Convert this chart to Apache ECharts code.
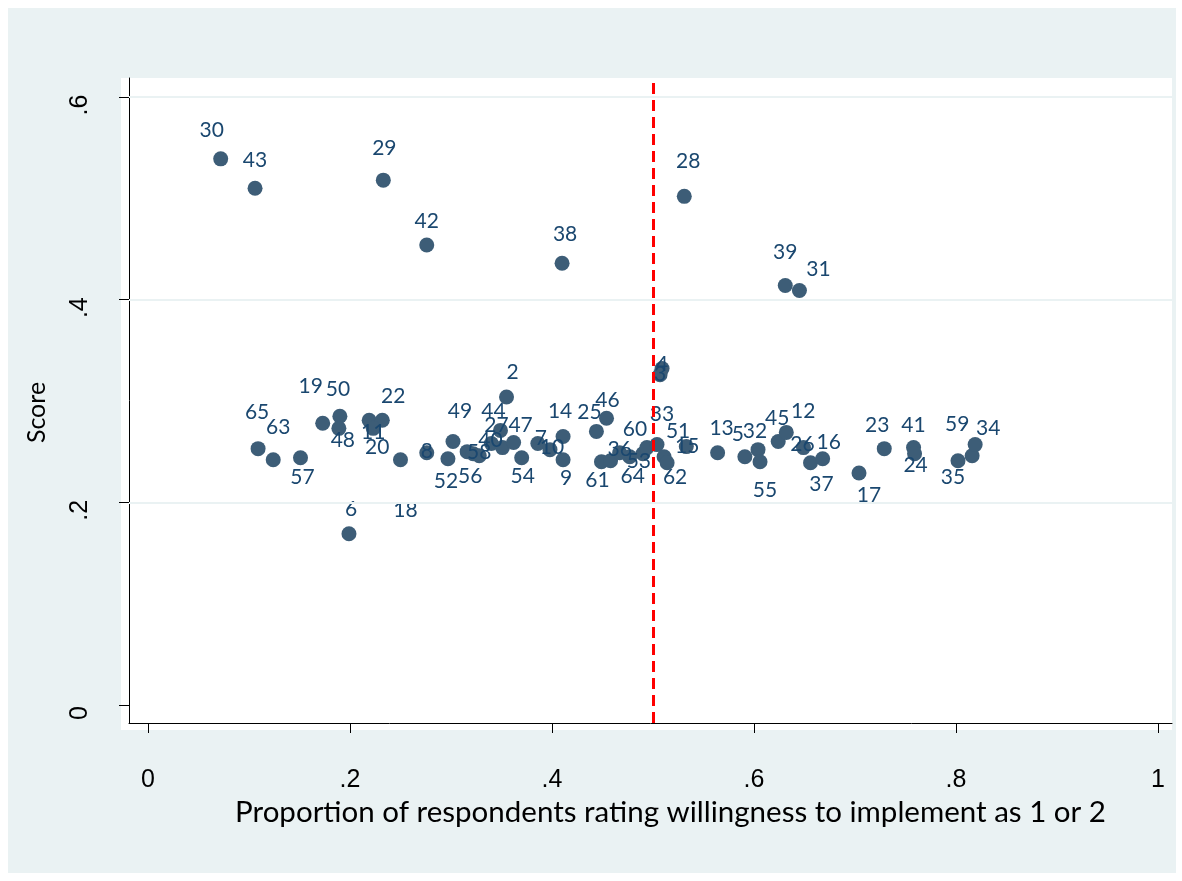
<!DOCTYPE html>
<html><head><meta charset="utf-8">
<script src="https://cdn.jsdelivr.net/npm/echarts@6/dist/echarts.min.js"></script>
<style>html,body{margin:0;padding:0;background:#fff}#c{width:1182px;height:881px}</style>
</head><body><div id="c"></div><script>
// ---- data ----
const ids = [30,43,29,42,38,28,39,31,6,2,4,3,
  65,63,57,19,50,48,20,22,11,18,8,
  49,52,58,56,1,40,44,27,47,54,
  7,10,14,9,25,46,61,21,36,64,53,60,33,51,62,15,
  13,5,32,55,45,12,26,37,16,17,23,41,24,35,59,34];
const xs = [0.072,0.106,0.233,0.276,0.410,0.531,0.631,0.645,0.199,0.355,0.509,0.507,
  0.109,0.124,0.151,0.173,0.190,0.189,0.219,0.232,0.223,0.250,0.276,
  0.302,0.297,0.316,0.322,0.328,0.340,0.349,0.351,0.362,0.370,
  0.386,0.398,0.411,0.411,0.444,0.454,0.449,0.458,0.467,0.477,0.490,0.494,0.504,0.511,0.514,0.533,
  0.564,0.591,0.604,0.606,0.624,0.632,0.649,0.656,0.668,0.704,0.729,0.758,0.759,0.802,0.816,0.819];
const ys = [0.539,0.510,0.518,0.454,0.436,0.502,0.414,0.409,0.169,0.304,0.332,0.326,
  0.253,0.242,0.244,0.278,0.285,0.273,0.281,0.281,0.273,0.242,0.249,
  0.260,0.243,0.250,0.248,0.246,0.258,0.271,0.254,0.259,0.244,
  0.258,0.252,0.265,0.242,0.270,0.283,0.240,0.241,0.249,0.245,0.248,0.254,0.257,0.245,0.239,0.255,
  0.249,0.245,0.252,0.240,0.260,0.269,0.254,0.239,0.243,0.229,0.253,0.254,0.248,0.241,0.246,0.257];
const xTicks = [0,0.2,0.4,0.6,0.8,1];
const yTicks = [0,0.2,0.4,0.6];
const yGridLines = [0.2,0.4,0.6];
const refX = 0.5;
const xTitle = 'Proportion of respondents rating willingness to implement as 1 or 2';
const yTitle = 'Score';

// ---- label placement (style): offset of label centre from marker centre, px ----
const labelOffsets = {30:[-9,-29],43:[0,-28],29:[1,-32],42:[0,-24],38:[3,-29],28:[4,-35],39:[0,-33],31:[19,-21],6:[2,-25],2:[6,-25],4:[0,-4],3:[0,0],
65:[-1,-36],63:[5,-33],57:[2,19],19:[-12,-37],50:[-2,-27],48:[4,12],20:[8,27],22:[11,-24],11:[0,4],18:[5,50],8:[0,-1],
49:[7,-30],52:[-2,22],58:[12,1],56:[-3,23],40:[-1,-3],44:[-7,-19],27:[-6,-22],47:[7,-17],54:[1,18],
7:[3,-5],10:[2,-2],14:[-3,-25],9:[3,18],25:[-7,-19],46:[1,-18],61:[-4,18],36:[0,-3],64:[3,20],53:[-4,8],60:[-12,-18],33:[5,-30],51:[14,-25],62:[8,14],15:[1,0],
13:[4,-24],5:[-7,-22],32:[-3,-18],55:[5,28],45:[-1,-23],12:[17,-21],26:[-1,-3],37:[11,21],16:[6,-17],17:[10,22],23:[-7,-23],41:[0,-22],24:[1,12],35:[-5,16],59:[-15,-31],34:[13,-16]};
const hiddenLabels = [1,21];
const markerSize = 15;

const fmt = v => { const s = (+v.toFixed(2)).toString(); return s.startsWith('0.') ? s.slice(1) : s; };

const points = ids.map((id,i) => {
  const o = labelOffsets[id] || [0,-26];
  return {
    value:[xs[i], ys[i], id],
    label:{ show: !hiddenLabels.includes(id), position:[markerSize/2 + o[0], markerSize/2 + o[1]], align:'center', verticalAlign:'middle' }
  };
});

const chart = echarts.init(document.getElementById('c'));
chart.setOption({
  animation:false,
  backgroundColor:'#fff',
  graphic:[
    {type:'rect', z:-20, silent:true, shape:{x:8,y:8,width:1168,height:865}, style:{fill:'#eaf2f3'}},
    {type:'rect', z:-19, silent:true, shape:{x:121,y:78,width:1051,height:652}, style:{fill:'#ffffff'}}
  ],
  grid:{left:129, right:10, top:78, bottom:158, containLabel:false},
  xAxis:{
    type:'value', min:-0.0188, max:1.0139,
    axisLine:{show:true, onZero:false, lineStyle:{color:'#000', width:1}},
    axisTick:{show:true, length:10, lineStyle:{color:'#000'}, customValues:xTicks},
    axisLabel:{customValues:xTicks, formatter:fmt, margin:45, color:'#000', fontSize:25, fontFamily:'Liberation Sans'},
    splitLine:{show:false},
    name:xTitle, nameLocation:'middle', nameGap:62,
    nameTextStyle:{color:'#000', fontSize:29.5, fontFamily:'Lato', padding:[0,0,0,40]}
  },
  yAxis:{
    type:'value', min:-0.0178, max:0.6188,
    axisLine:{show:true, onZero:false, lineStyle:{color:'#000', width:1}},
    axisTick:{show:true, length:10, lineStyle:{color:'#000'}, customValues:yTicks},
    axisLabel:{customValues:yTicks, formatter:fmt, rotate:90, margin:36, padding:[0,16,0,0], color:'#000', fontSize:25, fontFamily:'Liberation Sans'},
    splitLine:{show:false},
    name:yTitle, nameLocation:'middle', nameGap:80, nameRotate:90,
    nameTextStyle:{color:'#000', fontSize:25, fontFamily:'Lato', padding:[0,24,0,0]}
  },
  series:[
    {type:'scatter', data:[], z:1, silent:true,
      markLine:{silent:true, symbol:'none', label:{show:false},
        lineStyle:{color:'#eaf2f3', width:2, type:'solid'},
        data: yGridLines.map(v => ({yAxis:v}))}},
    {type:'scatter', z:2, symbol:'circle', symbolSize:markerSize,
      itemStyle:{color:'#3d5d77', opacity:1},
      label:{show:true, formatter: p => String(p.value[2]), color:'#1a476f', fontSize:21, fontFamily:'Lato'},
      labelLayout:{hideOverlap:false},
      data:points},
    {type:'scatter', data:[], z:5, silent:true,
      markLine:{silent:true, symbol:'none', label:{show:false},
        lineStyle:{color:'#ff0000', width:3, type:[11,6]},
        data:[{xAxis:refX}]}}
  ]
});
</script></body></html>
